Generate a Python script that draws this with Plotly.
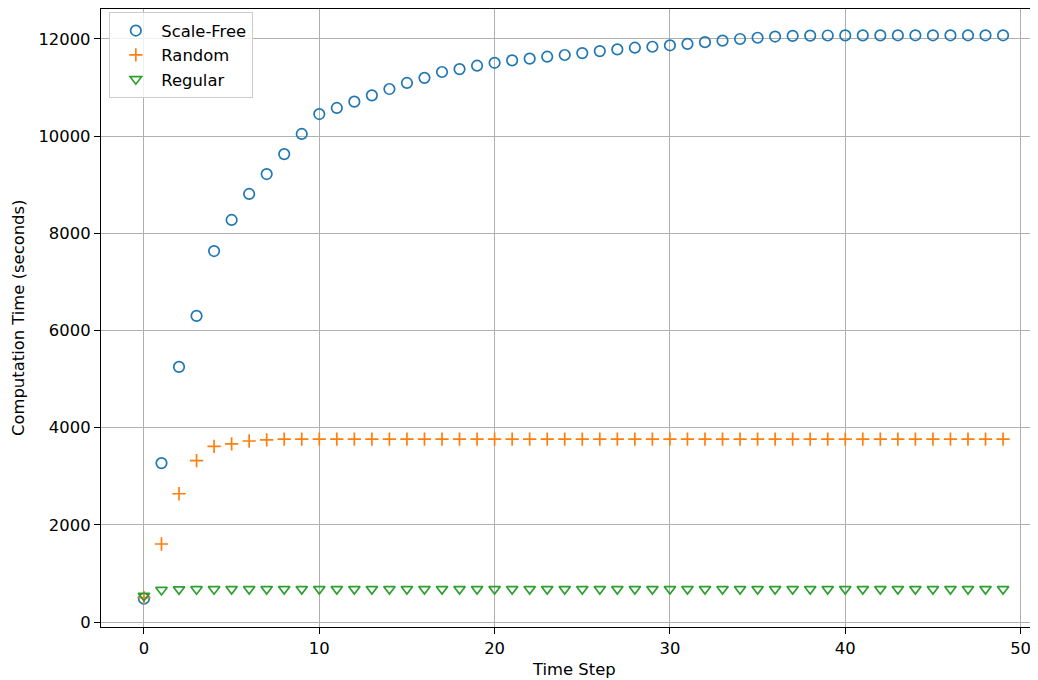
import plotly.graph_objects as go

time_steps = list(range(50))

scale_free = [480, 3270, 5250, 6300, 7635, 8275, 8810, 9220, 9630, 10045,
              10455, 10580, 10710, 10840, 10970, 11095, 11200, 11320, 11380, 11450,
              11510, 11560, 11595, 11635, 11670, 11710, 11750, 11785, 11820, 11840,
              11870, 11900, 11935, 11965, 12000, 12025, 12050, 12065, 12070, 12072,
              12074, 12075, 12075, 12076, 12076, 12076, 12076, 12076, 12076, 12076]

random_net = [500, 1605, 2640, 3320, 3615, 3665, 3725, 3750, 3762, 3765,
              3766, 3766, 3766, 3766, 3766, 3766, 3766, 3766, 3766, 3766,
              3766, 3766, 3766, 3766, 3766, 3766, 3766, 3766, 3766, 3766,
              3766, 3766, 3766, 3766, 3766, 3766, 3766, 3766, 3766, 3766,
              3766, 3766, 3766, 3766, 3766, 3766, 3766, 3766, 3766, 3766]

regular = [540, 660, 672, 675, 676, 677, 677, 677, 677, 677,
           677, 677, 677, 677, 677, 677, 677, 677, 677, 677,
           677, 677, 677, 677, 677, 677, 677, 677, 677, 677,
           677, 677, 677, 677, 677, 677, 677, 677, 677, 677,
           677, 677, 677, 677, 677, 677, 677, 677, 677, 677]

x_ticks = [0, 10, 20, 30, 40, 50]
y_ticks = [0, 2000, 4000, 6000, 8000, 10000, 12000]
y_tick_labels = ["0", "2000", "4000", "6000", "8000", "10000", "12000"]

x_title = "Time Step"
y_title = "Computation Time (seconds)"

FONT = "DejaVu Sans"
FS = 16.4

fig = go.Figure()
fig.add_trace(go.Scatter(
    x=time_steps, y=scale_free, mode="markers", name="Scale-Free",
    marker=dict(symbol="circle-open", size=10.5, color="#1f77b4",
                line=dict(width=1.7, color="#1f77b4"))))
fig.add_trace(go.Scatter(
    x=time_steps, y=random_net, mode="markers", name="Random",
    marker=dict(symbol="cross-thin-open", size=9.5, color="#ff7f0e",
                line=dict(width=1.7, color="#ff7f0e"))))
fig.add_trace(go.Scatter(
    x=time_steps, y=regular, mode="markers", name="Regular",
    marker=dict(symbol="triangle-down-open", size=10, color="#2ca02c",
                line=dict(width=1.7, color="#2ca02c"))))

axis_common = dict(
    showgrid=True, gridcolor="#b0b0b0", gridwidth=1.3,
    showline=True, linecolor="black", linewidth=1.3, mirror=True,
    ticks="outside", ticklen=6, tickwidth=1.3, tickcolor="black",
    zeroline=False, automargin=False,
    tickfont=dict(family=FONT, size=FS, color="black"),
)

fig.update_layout(
    width=1038, height=680,
    paper_bgcolor="white", plot_bgcolor="white",
    margin=dict(l=93, r=0, t=1, b=61),
    font=dict(family=FONT, size=FS, color="black"),
    xaxis=dict(range=[-2.45, 51.45], tickvals=x_ticks, **axis_common),
    yaxis=dict(range=[-103, 12617], tickvals=y_ticks, ticktext=y_tick_labels,
               **axis_common),
    legend=dict(x=0.0085, y=0.995, xanchor="left", yanchor="top",
                bgcolor="rgba(255,255,255,0.8)", bordercolor="#cccccc", borderwidth=1.3,
                font=dict(family=FONT, size=FS), itemwidth=41),
    showlegend=True,
    annotations=[
        dict(text=x_title, xref="paper", yref="paper", x=0.5, y=-0.0,
             yshift=-42, xanchor="center", yanchor="middle", showarrow=False,
             font=dict(family=FONT, size=FS, color="black")),
        dict(text=y_title, xref="paper", yref="paper", x=0, y=0.5,
             xshift=-83, xanchor="center", yanchor="middle", textangle=-90,
             showarrow=False, font=dict(family=FONT, size=FS, color="black")),
    ],
)

fig.write_html("out.html")
